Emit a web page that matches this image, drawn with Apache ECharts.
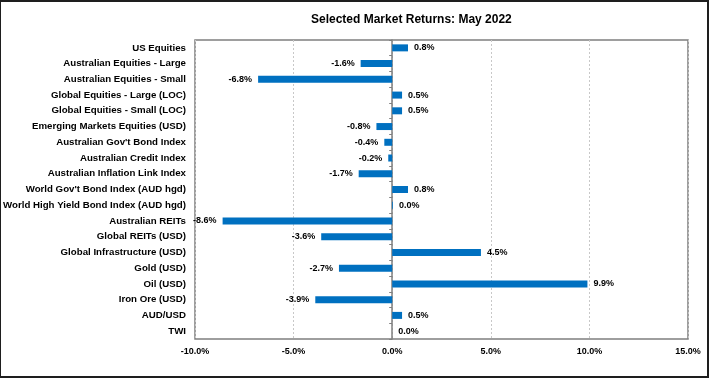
<!DOCTYPE html>
<html>
<head>
<meta charset="utf-8">
<script src="https://cdn.jsdelivr.net/npm/echarts@6/dist/echarts.min.js"></script>
<style>
html,body{margin:0;padding:0;background:#fff;}
#chart{position:absolute;left:0;top:0;width:709px;height:378px;}
#frame{position:absolute;left:0;top:0;width:709px;height:378px;box-sizing:border-box;border:2px solid #1e1e1e;border-left-width:1px;pointer-events:none;}
</style>
</head>
<body>
<div id="chart"></div>
<div id="frame"></div>
<script>
const titleText = 'Selected Market Returns: May 2022';
const categories = [
  'US Equities',
  'Australian Equities - Large',
  'Australian Equities - Small',
  'Global Equities - Large (LOC)',
  'Global Equities - Small (LOC)',
  'Emerging Markets Equities (USD)',
  "Australian Gov't Bond Index",
  'Australian Credit Index',
  'Australian Inflation Link Index',
  "World Gov't Bond Index (AUD hgd)",
  'World High Yield Bond Index (AUD hgd)',
  'Australian REITs',
  'Global REITs (USD)',
  'Global Infrastructure (USD)',
  'Gold (USD)',
  'Oil (USD)',
  'Iron Ore (USD)',
  'AUD/USD',
  'TWI'
];
const returns = [0.8, -1.6, -6.8, 0.5, 0.5, -0.8, -0.4, -0.2, -1.7, 0.8, 0.04, -8.6, -3.6, 4.5, -2.7, 9.9, -3.9, 0.5, 0.0];
const xTicks = [-10, -5, 0, 5, 10, 15];

const FONT = '"Liberation Sans", Arial, sans-serif';
const chart = echarts.init(document.getElementById('chart'), null, {renderer: 'canvas'});

const seriesData = returns.map(v => ({
  value: v,
  label: {position: v < 0 ? 'left' : 'right'}
}));

chart.setOption({
  animation: false,
  backgroundColor: '#fff',
  title: {
    text: titleText,
    left: 311,
    top: 14,
    padding: 0,
    textStyle: {fontFamily: FONT, fontSize: 12, fontWeight: 'bold', color: '#000'}
  },
  grid: {
    left: 195, right: 21, top: 40, bottom: 39,
    outerBoundsMode: 'none',
    containLabel: false,
    show: true, borderColor: '#7f7f7f', borderWidth: 1.5, backgroundColor: 'transparent'
  },
  xAxis: {
    type: 'value',
    min: xTicks[0],
    max: xTicks[xTicks.length - 1],
    interval: 5,
    axisLine: {show: false},
    axisTick: {show: false},
    splitLine: {show: true, lineStyle: {color: '#c8c8c8', type: [2, 2], width: 1}},
    axisLabel: {
      margin: 8,
      fontFamily: FONT, fontSize: 9, fontWeight: 'bold', color: '#000',
      formatter: v => v.toFixed(1) + '%'
    }
  },
  yAxis: [
    {
      type: 'category',
      data: categories,
      inverse: true,
      position: 'left',
      axisLine: {show: false, onZero: false},
      axisTick: {show: false},
      splitLine: {show: false},
      axisLabel: {margin: 9, fontFamily: FONT, fontSize: 9.7, fontWeight: 'bold', color: '#000'}
    },
    {
      type: 'category',
      data: categories,
      inverse: true,
      position: 'left',
      axisLine: {show: true, onZero: true, lineStyle: {color: '#7f7f7f', width: 1.5}},
      axisTick: {show: true, length: 3, lineStyle: {color: '#7f7f7f'}},
      axisLabel: {show: false},
      splitLine: {show: false}
    }
  ],
  series: [{
    type: 'bar',
    yAxisIndex: 0,
    data: seriesData,
    barWidth: 7,
    itemStyle: {color: '#0070C0'},
    label: {
      show: true,
      distance: 6,
      fontFamily: FONT, fontSize: 9, fontWeight: 'bold', color: '#000',
      formatter: p => p.value.toFixed(1) + '%'
    }
  }]
});
</script>
</body>
</html>
